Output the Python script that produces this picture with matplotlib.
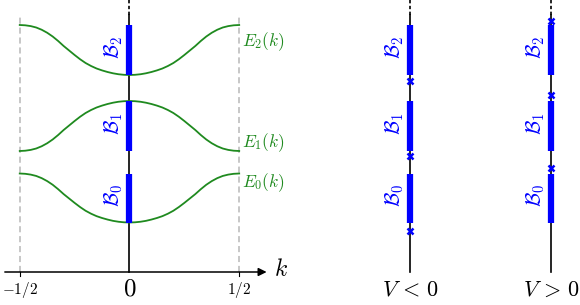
import matplotlib
matplotlib.use("Agg")
import matplotlib.pyplot as plt

plt.rcParams["mathtext.fontset"] = "cm"
plt.rcParams["font.family"] = "DejaVu Serif"

# quasi-momentum samples and band energies
k_vals = [-0.5, -0.475, -0.45, -0.425, -0.4, -0.375, -0.35, -0.325, -0.3, -0.275,
          -0.25, -0.225, -0.2, -0.175, -0.15, -0.125, -0.1, -0.075, -0.05, -0.025,
          0.0, 0.025, 0.05, 0.075, 0.1, 0.125, 0.15, 0.175, 0.2, 0.225, 0.25,
          0.275, 0.3, 0.325, 0.35, 0.375, 0.4, 0.425, 0.45, 0.475, 0.5]
E0_half = [0.99, 0.994, 1.005, 1.023, 1.049, 1.08, 1.117, 1.166, 1.225, 1.299, 1.382,
           1.47, 1.558, 1.656, 1.745, 1.818, 1.877, 1.921, 1.948, 1.964, 1.97]
E1_half = [3.42, 3.416, 3.405, 3.386, 3.36, 3.328, 3.29, 3.24, 3.18, 3.105, 3.02,
           2.93, 2.84, 2.74, 2.65, 2.575, 2.515, 2.47, 2.442, 2.426, 2.42]
E2_half = [3.94, 3.944, 3.955, 3.974, 4.00, 4.032, 4.07, 4.12, 4.18, 4.255, 4.34,
           4.43, 4.52, 4.62, 4.71, 4.785, 4.845, 4.89, 4.918, 4.934, 4.94]
# the bands are symmetric in k: mirror the half read from k=0 to k=1/2
E0 = E0_half[::-1] + E0_half[1:]
E1 = E1_half[::-1] + E1_half[1:]
E2 = E2_half[::-1] + E2_half[1:]
curves = [E0, E1, E2]
curve_names = [r"$E_0(k)$", r"$E_1(k)$", r"$E_2(k)$"]
label_E = [1.78, 2.58, 4.6]

# bands (bottom, top)
bands = [(0.99, 1.97), (2.42, 3.42), (3.94, 4.94)]
band_names = [r"$\mathcal{B}_0$", r"$\mathcal{B}_1$", r"$\mathcal{B}_2$"]

# right panels: V<0 and V>0, positions of the crosses
panels = [r"$V\,<\,0$", r"$V\,>\,0$"]
crosses = [[0.82, 2.32, 3.82], [2.08, 3.54, 5.02]]

green = "#1f8a1f"
blue = "#0000ff"
top_solid = 5.14
top_end = 5.44
ylims = (-0.66, 5.44)

fig = plt.figure(figsize=(5.8, 3.05), dpi=100)

# ---- left panel: band structure ----
ax = fig.add_axes([0, 0, 0.5, 1])
ax.set_xlim(-0.590, 0.7315)
ax.set_ylim(*ylims)
ax.axis("off")

for x in [-0.5, 0.5]:
    ax.plot([x, x], [0, top_solid], color="#b8b8b8", lw=1.1, ls=(0, (4, 2.5)))
    ax.plot([x, x], [0, -0.08], color="black", lw=0.8)

ax.annotate("", xy=(0.625, 0), xytext=(-0.568, 0),
            arrowprops=dict(arrowstyle="-|>", color="black", lw=1.1,
                            mutation_scale=12, shrinkA=0, shrinkB=0))
ax.text(0.69, 0.04, r"$k$", fontsize=17, ha="center", va="center")
ax.text(-0.5, -0.16, r"$-1/2$", fontsize=11, ha="center", va="top")
ax.text(0.0, -0.12, r"$0$", fontsize=18, ha="center", va="top")
ax.text(0.5, -0.16, r"$1/2$", fontsize=11, ha="center", va="top")

ax.plot([0, 0], [0, top_solid], color="black", lw=1.2)
ax.plot([0, 0], [top_solid, top_end], color="black", lw=1.2, ls=(0, (2, 1.5)))

for E, name, ly in zip(curves, curve_names, label_E):
    ax.plot(k_vals, E, color=green, lw=1.3)
    ax.text(0.512, ly, name, color=green, fontsize=12.5, ha="left", va="center")

for (lo, hi), name in zip(bands, band_names):
    ax.plot([0, 0], [lo, hi], color=blue, lw=4.5, solid_capstyle="butt")
    ax.text(-0.02, (lo + hi) / 2 + 0.05, name, color=blue, fontsize=15,
            rotation=90, ha="right", va="center")

# ---- right panels ----
ax2 = fig.add_axes([0.5, 0, 0.5, 1])
ax2.set_xlim(-0.851, 1.206)
ax2.set_ylim(*ylims)
ax2.axis("off")

for i, (title, cr) in enumerate(zip(panels, crosses)):
    ax2.plot([i, i], [0, top_solid], color="black", lw=1.2)
    ax2.plot([i, i], [top_solid, top_end], color="black", lw=1.2, ls=(0, (2, 1.5)))
    for (lo, hi), name in zip(bands, band_names):
        ax2.plot([i, i], [lo, hi], color=blue, lw=4.5, solid_capstyle="butt")
        ax2.text(i - 0.03, (lo + hi) / 2 + 0.05, name, color=blue, fontsize=15,
                 rotation=90, ha="right", va="center")
    ax2.plot([i] * len(cr), cr, ls="none", marker="x", color=blue,
             markersize=5, markeredgewidth=1.8)
    ax2.text(i, -0.36, title, fontsize=16, ha="center", va="center")

fig.savefig("out.png", dpi=100)
